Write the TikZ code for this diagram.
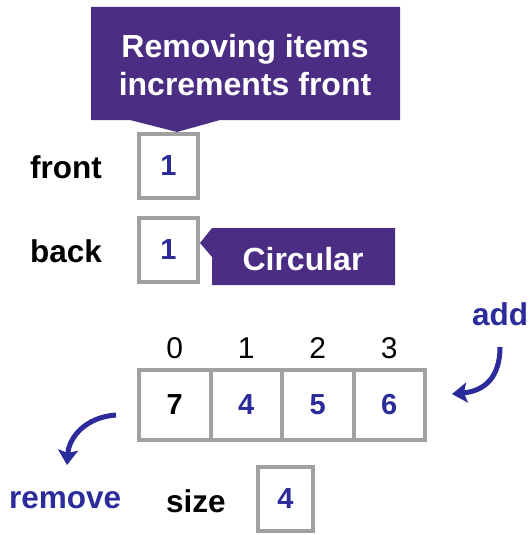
\documentclass[tikz,border=0pt]{standalone}
\usepackage{fontspec}
\setmainfont{Liberation Sans}
\usetikzlibrary{arrows.meta}
\definecolor{uwpurple}{RGB}{75,46,131}
\definecolor{valblue}{RGB}{43,43,155}
\definecolor{boxgray}{RGB}{160,160,160}
\tikzset{
  cell/.style={draw=boxgray, line width=4pt, fill=white, inner sep=0pt, minimum width=71.5pt, minimum height=70pt, font=\fontsize{29}{32}\selectfont\bfseries},
  varbox/.style={draw=boxgray, line width=4pt, fill=white, inner sep=0pt, minimum width=59pt, minimum height=64pt, text=valblue, font=\fontsize{29}{32}\selectfont\bfseries},
  lbl/.style={anchor=base west, inner sep=0pt, font=\fontsize{31.5}{36}\selectfont\bfseries},
  idx/.style={inner sep=0pt, font=\fontsize{30}{34}\selectfont},
  callout/.style={fill=uwpurple, draw=none},
  calltext/.style={text=white, inner sep=0pt, font=\fontsize{32}{38}\selectfont\bfseries, align=center},
  curvearrow/.style={draw=valblue, line width=5pt, -{Stealth[length=15pt,width=20pt,inset=3pt]}}
}
\begin{document}
\begin{tikzpicture}[x=1pt,y=-1pt]
\useasboundingbox (0,0) rectangle (532,535);
% top callout
\fill[callout] (91,7) -- (400,7) -- (400,120) -- (220,120) -- (177,132) -- (130,120) -- (91,120) -- cycle;
\node[calltext] (calltop) at (245,65) {Removing items\\increments front};
% front / back
\node[lbl] (frontlbl) at (30,178) {front};
\node[varbox] (front) at (168.5,166) {1};
\node[lbl] (backlbl) at (30,262) {back};
\node[varbox] (back) at (168.5,249.5) {1};
% circular callout
\fill[callout] (200,243) -- (212,228) -- (395,228) -- (395,285) -- (212,285) -- (212,257) -- cycle;
\node[calltext, anchor=base] (circ) at (303,270) {Circular};
% array
\node[cell] (c0) at (174.75,405) {7};
\node[cell, text=valblue] (c1) at (246.25,405) {4};
\node[cell, text=valblue] (c2) at (317.75,405) {5};
\node[cell, text=valblue] (c3) at (389.25,405) {6};
\node[idx] (i0) at (174.75,348) {0};
\node[idx] (i1) at (246.25,348) {1};
\node[idx] (i2) at (317.75,348) {2};
\node[idx] (i3) at (389.25,348) {3};
% size
\node[lbl] (sizelbl) at (166,512) {size};
\node[varbox, minimum width=55pt] (size) at (285.5,499) {4};
% add / remove
\node[lbl, text=valblue] (addlbl) at (472,325) {add};
\node[lbl, text=valblue] (remlbl) at (9,508) {remove};
\coordinate (addS) at (500,347);
\coordinate (addE) at (452,394);
\draw[curvearrow] (addS) .. controls (500,378) and (484,391) .. (addE);
\coordinate (remS) at (116,415);
\coordinate (remE) at (67,465);
\draw[curvearrow] (remS) .. controls (86,417) and (69,437) .. (remE);
\end{tikzpicture}
\end{document}
